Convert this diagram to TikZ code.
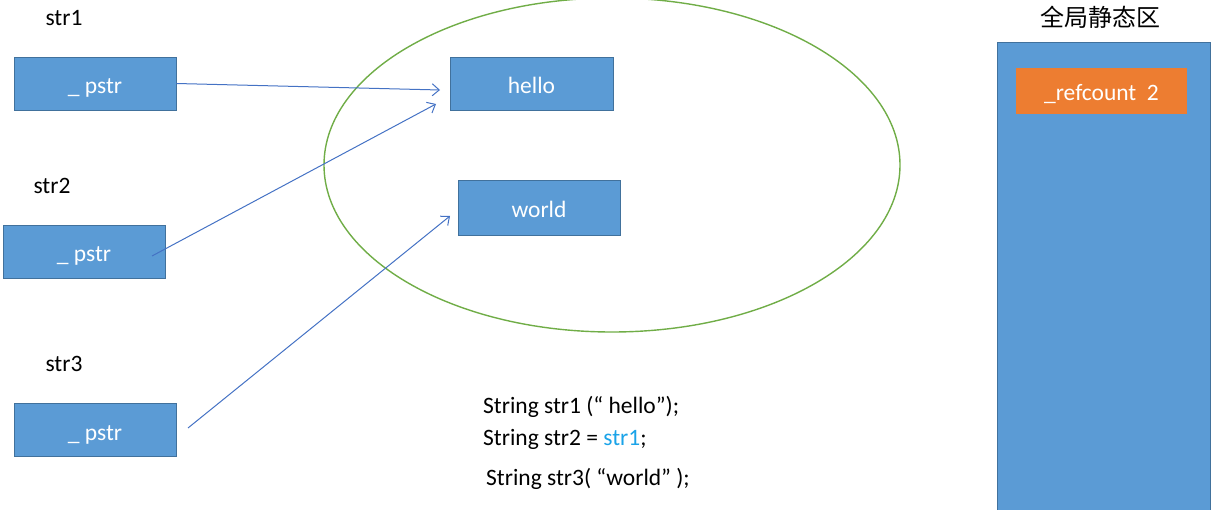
\documentclass[tikz,border=0pt]{standalone}
\usepackage{fontspec}
\setmainfont{Carlito}
\newfontfamily\cjk{Noto Sans CJK SC}
\usetikzlibrary{arrows.meta}
\definecolor{boxblue}{HTML}{5B9BD5}
\definecolor{boxedge}{HTML}{41719C}
\definecolor{refor}{HTML}{ED7D31}
\definecolor{ringgreen}{HTML}{70AD47}
\definecolor{arrowblue}{HTML}{4472C4}
\definecolor{codecyan}{HTML}{1AA3E8}
\tikzset{
  x=1pt, y=-1pt,
  every node/.style={font=\fontsize{23.5}{28}\selectfont},
  cell/.style={draw=boxedge, fill=boxblue, text=white, line width=0.8pt,
    minimum width=162pt, minimum height=53pt, inner sep=0pt,
    text height=24pt, text depth=3pt},
  ptr/.style={draw=arrowblue, line width=1pt, -{Straight Barb[length=7pt,width=12pt]}},
  label text/.style={text=black, anchor=west, inner sep=0pt},
}
\begin{document}
\begin{tikzpicture}
\useasboundingbox (0,0) rectangle (1214,510);
% string pool
\draw[ringgreen, line width=1.4pt] (612,165) ellipse [x radius=288, y radius=167];
% variable labels and pointer cells
\node (l1) at (64,18) {str1};
\node (l2) at (52,186) {str2};
\node (l3) at (64,364) {str3};
\node[cell] (p1) at (95,83.5) {\_ pstr};
\node[cell] (p2) at (84,251.5) {\_ pstr};
\node[cell] (p3) at (95,429.5) {\_ pstr};
% character buffers
\node[cell, minimum width=163pt] (hello) at (531.5,83.5) {hello};
\node[cell, minimum width=162pt, minimum height=55pt] (world) at (539,207.5) {world};
% global static area
\node[font=\cjk\fontsize{24}{28}\selectfont] (gtitle) at (1100,17) {全局静态区};
\fill[boxblue] (997,42) rectangle (1210,512);
\draw[boxedge, line width=0.8pt] (997,512) -- (997,42) -- (1210,42) -- (1210,512);
\node[fill=refor, text=white, minimum width=171pt, minimum height=46pt, inner sep=0pt,
  text height=22pt, text depth=3pt] (rc) at (1101.5,91) {\_refcount\ \ 2};
% pointers into the pool
\coordinate (a1) at (p1.east);
\coordinate (t1) at (440,90);
\coordinate (a2) at (152,256);
\coordinate (t2) at (436,104);
\coordinate (a3) at (188,428);
\coordinate (t3) at (450,216);
\draw[ptr] (a1) -- (t1);
\draw[ptr] (a2) -- (t2);
\draw[ptr] (a3) -- (t3);
% source lines
\node[label text] (c1) at (483,407) {String str1 (“ hello”);};
\node[label text] (c2) at (483,439) {String str2 = \textcolor{codecyan}{str1};};
\node[label text] (c3) at (486,479) {String str3( “world” );};
\end{tikzpicture}
\end{document}
